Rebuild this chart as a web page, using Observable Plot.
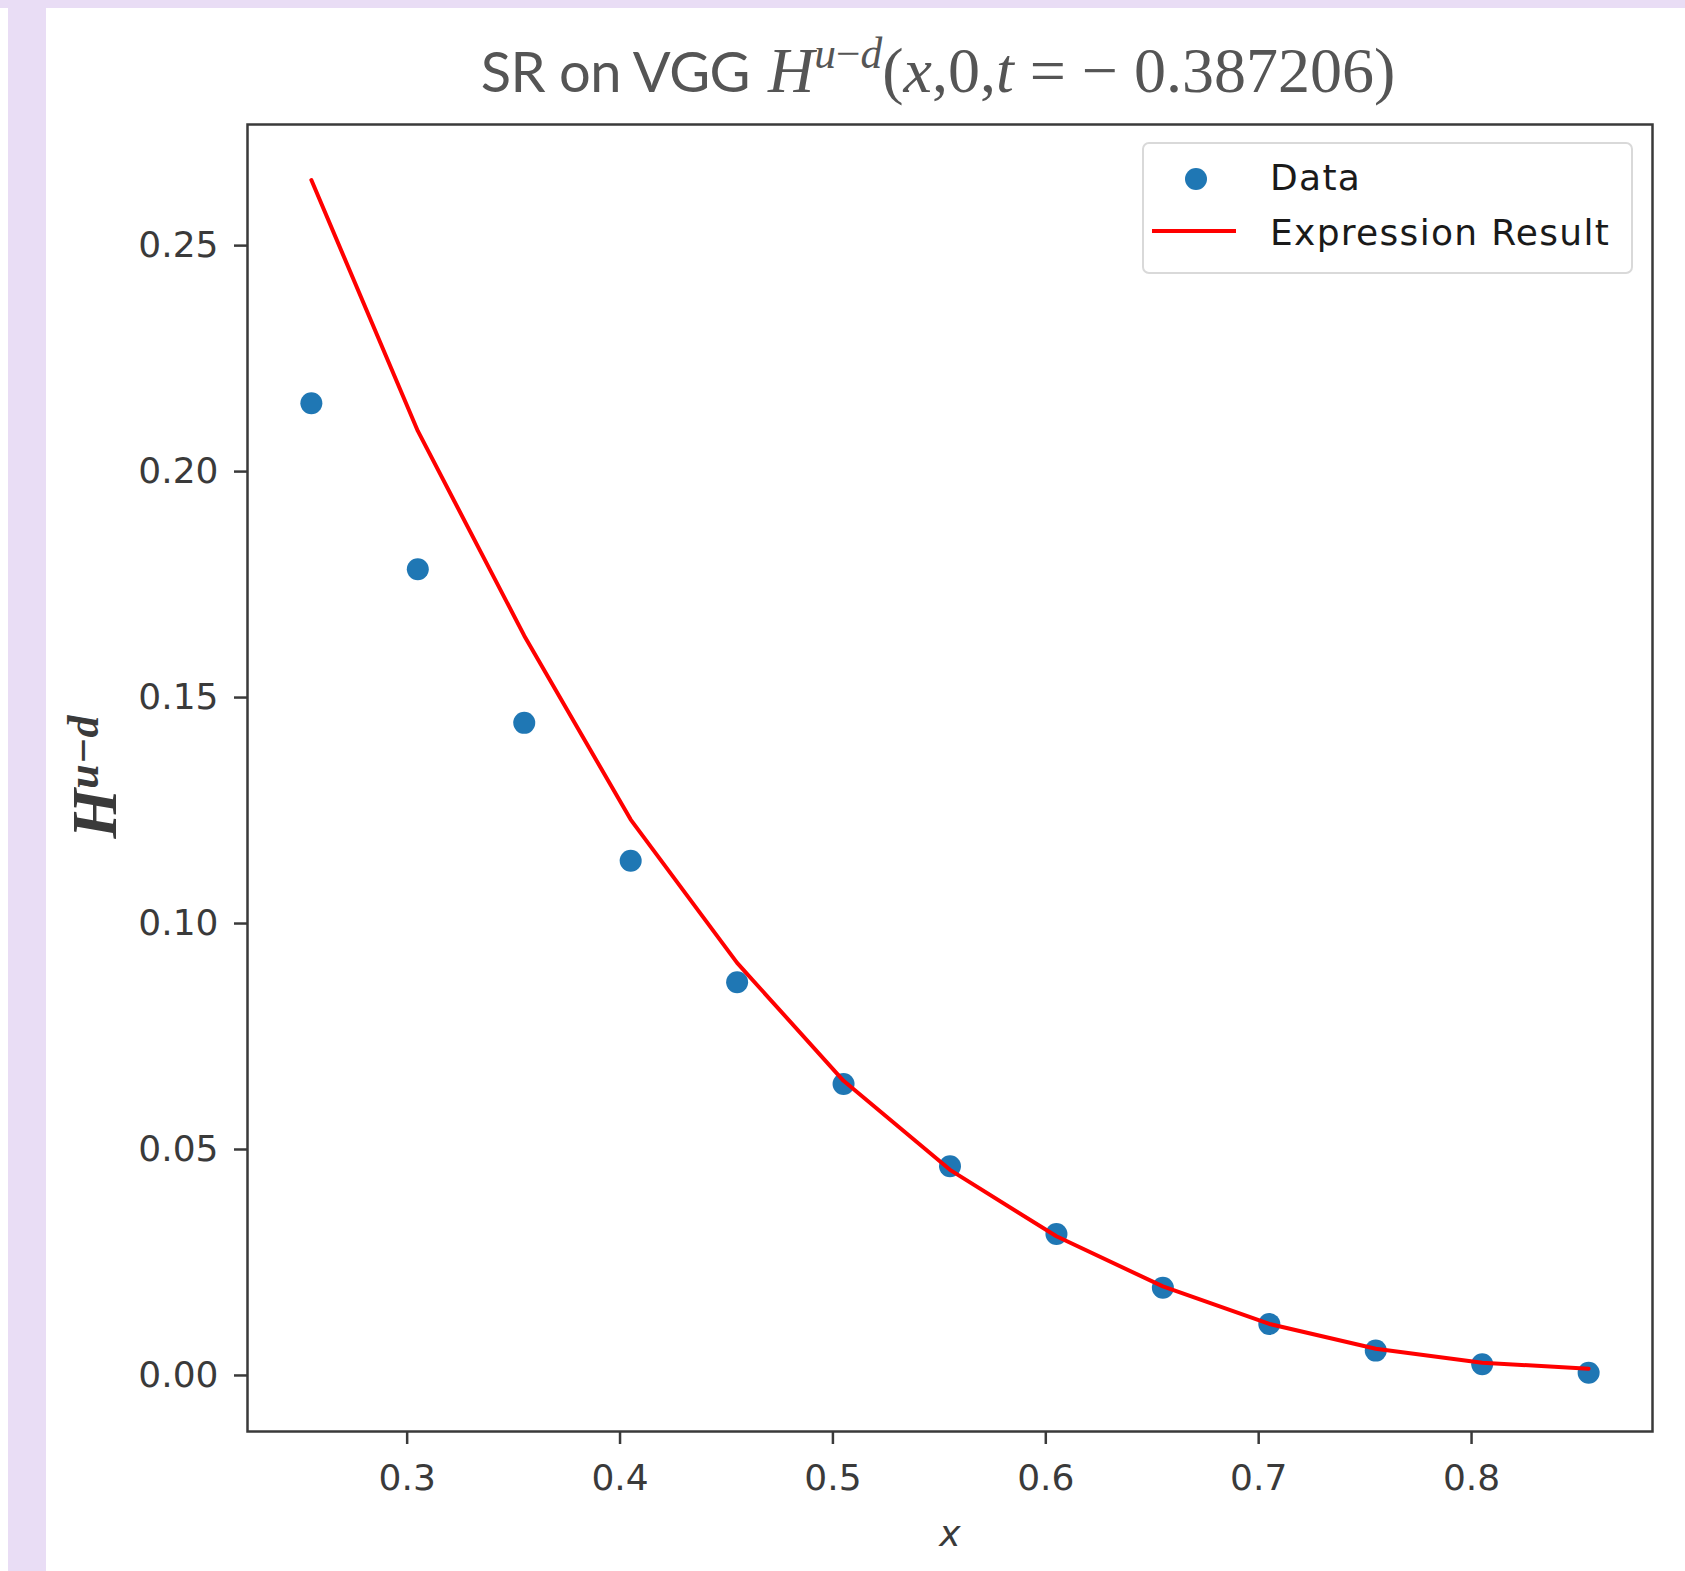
<!DOCTYPE html>
<html>
<head>
<meta charset="utf-8">
<script src="https://cdn.jsdelivr.net/npm/d3@7"></script>
<script src="https://cdn.jsdelivr.net/npm/@observablehq/plot@0.6"></script>
<style>
  html, body { margin: 0; padding: 0; background: #fff; }
  #page { position: relative; width: 1685px; height: 1571px; overflow: hidden; background: #fff; }
  .band-top { position: absolute; left: 0; top: 0; width: 1685px; height: 8px; background: #e9ddf5; }
  .band-left { position: absolute; left: 8px; top: 0; width: 38px; height: 1571px; background: #e9ddf5; }
  #title { position: absolute; left: 938px; top: 34px; transform: translateX(-50%); white-space: nowrap; color: #555; }
  #title .sans { font-family: Lato, "Open Sans", sans-serif; font-size: 56px; letter-spacing: -0.5px; margin-right: 18px; }
  #title .math { font-family: "Liberation Serif", serif; font-size: 64px; }
  #title .math i { font-style: italic; }
  #title sup { font-size: 0.68em; vertical-align: 0.55em; line-height: 0; }
  #chart { position: absolute; left: 46px; top: 110px; }
  #legend { position: absolute; left: 1142px; top: 142px; width: 487px; height: 128px; background: #fff;
            border: 2px solid #d9d9d9; border-radius: 7px; font-family: "DejaVu Sans", sans-serif; font-size: 36px; color: #1a1a1a; }
  #legend svg { position: absolute; left: 0; top: 0; }
  #legend .lab { position: absolute; left: 126px; line-height: 1; white-space: nowrap; letter-spacing: 1.3px; }
</style>
</head>
<body>
<div id="page">
  <div class="band-top"></div>
  <div class="band-left"></div>
  <div id="title"><span class="sans">SR on VGG</span><span class="math"><i>H</i><sup><i>u</i>−<i>d</i></sup>(<i>x</i>,0,<i>t</i> = − 0.387206)</span></div>
  <div id="chart"></div>
  <div id="legend">
    <svg width="487" height="128">
      <circle cx="52" cy="35" r="11" fill="#1f77b4"></circle>
      <line x1="8" x2="92" y1="87" y2="87" stroke="#ff0000" stroke-width="4"></line>
    </svg>
    <div class="lab" style="top: 16px;">Data</div>
    <div class="lab" style="top: 71px;">Expression Result</div>
  </div>
</div>
<script>
// Sample positions along x
const xValues = [0.255, 0.305, 0.355, 0.405, 0.455, 0.505, 0.555, 0.605, 0.655, 0.705, 0.755, 0.805, 0.855];
// Measured H^{u-d} values
const dataValues = [0.2151, 0.1784, 0.1444, 0.1139, 0.0870, 0.0645, 0.0463, 0.0313, 0.0194, 0.0114, 0.0055, 0.0025, 0.0006];
// Values of the fitted symbolic-regression expression
const fitValues = [0.2645, 0.2090, 0.1637, 0.1230, 0.0913, 0.0652, 0.0455, 0.0308, 0.0197, 0.0114, 0.0059, 0.0028, 0.0015];
// Axis ticks
const xTicks = [0.3, 0.4, 0.5, 0.6, 0.7, 0.8];
const yTicks = [0.00, 0.05, 0.10, 0.15, 0.20, 0.25];

const points = xValues.map((x, i) => ({x, data: dataValues[i], fit: fitValues[i]}));

const axisColor = "#3a3a3a";

const chart = Plot.plot({
  width: 1639,
  height: 1461,
  marginLeft: 201,
  marginRight: 33,
  marginTop: 14,
  marginBottom: 140,
  x: {domain: [0.225, 0.885]},
  y: {domain: [-0.0124, 0.2768]},
  style: {fontFamily: "'DejaVu Sans', sans-serif", fontSize: "36px", color: axisColor, background: "transparent", overflow: "visible"},
  marks: [
    Plot.axisX({ticks: xTicks, tickFormat: d3.format(".1f"), tickSize: 13, tickPadding: 20, strokeWidth: 2.5, label: null}),
    Plot.axisY({ticks: yTicks, tickFormat: d3.format(".2f"), tickSize: 13, tickPadding: 16, strokeWidth: 2.5, label: null}),
    Plot.dot(points, {x: "x", y: "data", r: 11, fill: "#1f77b4", stroke: "none"}),
    Plot.line(points, {x: "x", y: "fit", stroke: "#ff0000", strokeWidth: 4}),
    Plot.frame({stroke: axisColor, strokeWidth: 2.5}),
    Plot.text(["x"], {frameAnchor: "bottom", dy: 114, fontStyle: "italic", fontSize: 36, fill: axisColor})
  ]
});

document.getElementById("chart").appendChild(chart);

// Rotated y-axis label with superscript
const yLabel = d3.select(chart).append("text")
  .attr("transform", "translate(70,667) rotate(-90)")
  .attr("text-anchor", "middle")
  .attr("fill", axisColor)
  .style("font-family", "'Liberation Serif', serif")
  .style("font-weight", "bold")
  .style("font-style", "italic")
  .style("font-size", "64px");
yLabel.append("tspan").text("H");
yLabel.append("tspan").attr("dy", "-0.42em").style("font-size", "44px").text("u−d");
</script>
</body>
</html>
